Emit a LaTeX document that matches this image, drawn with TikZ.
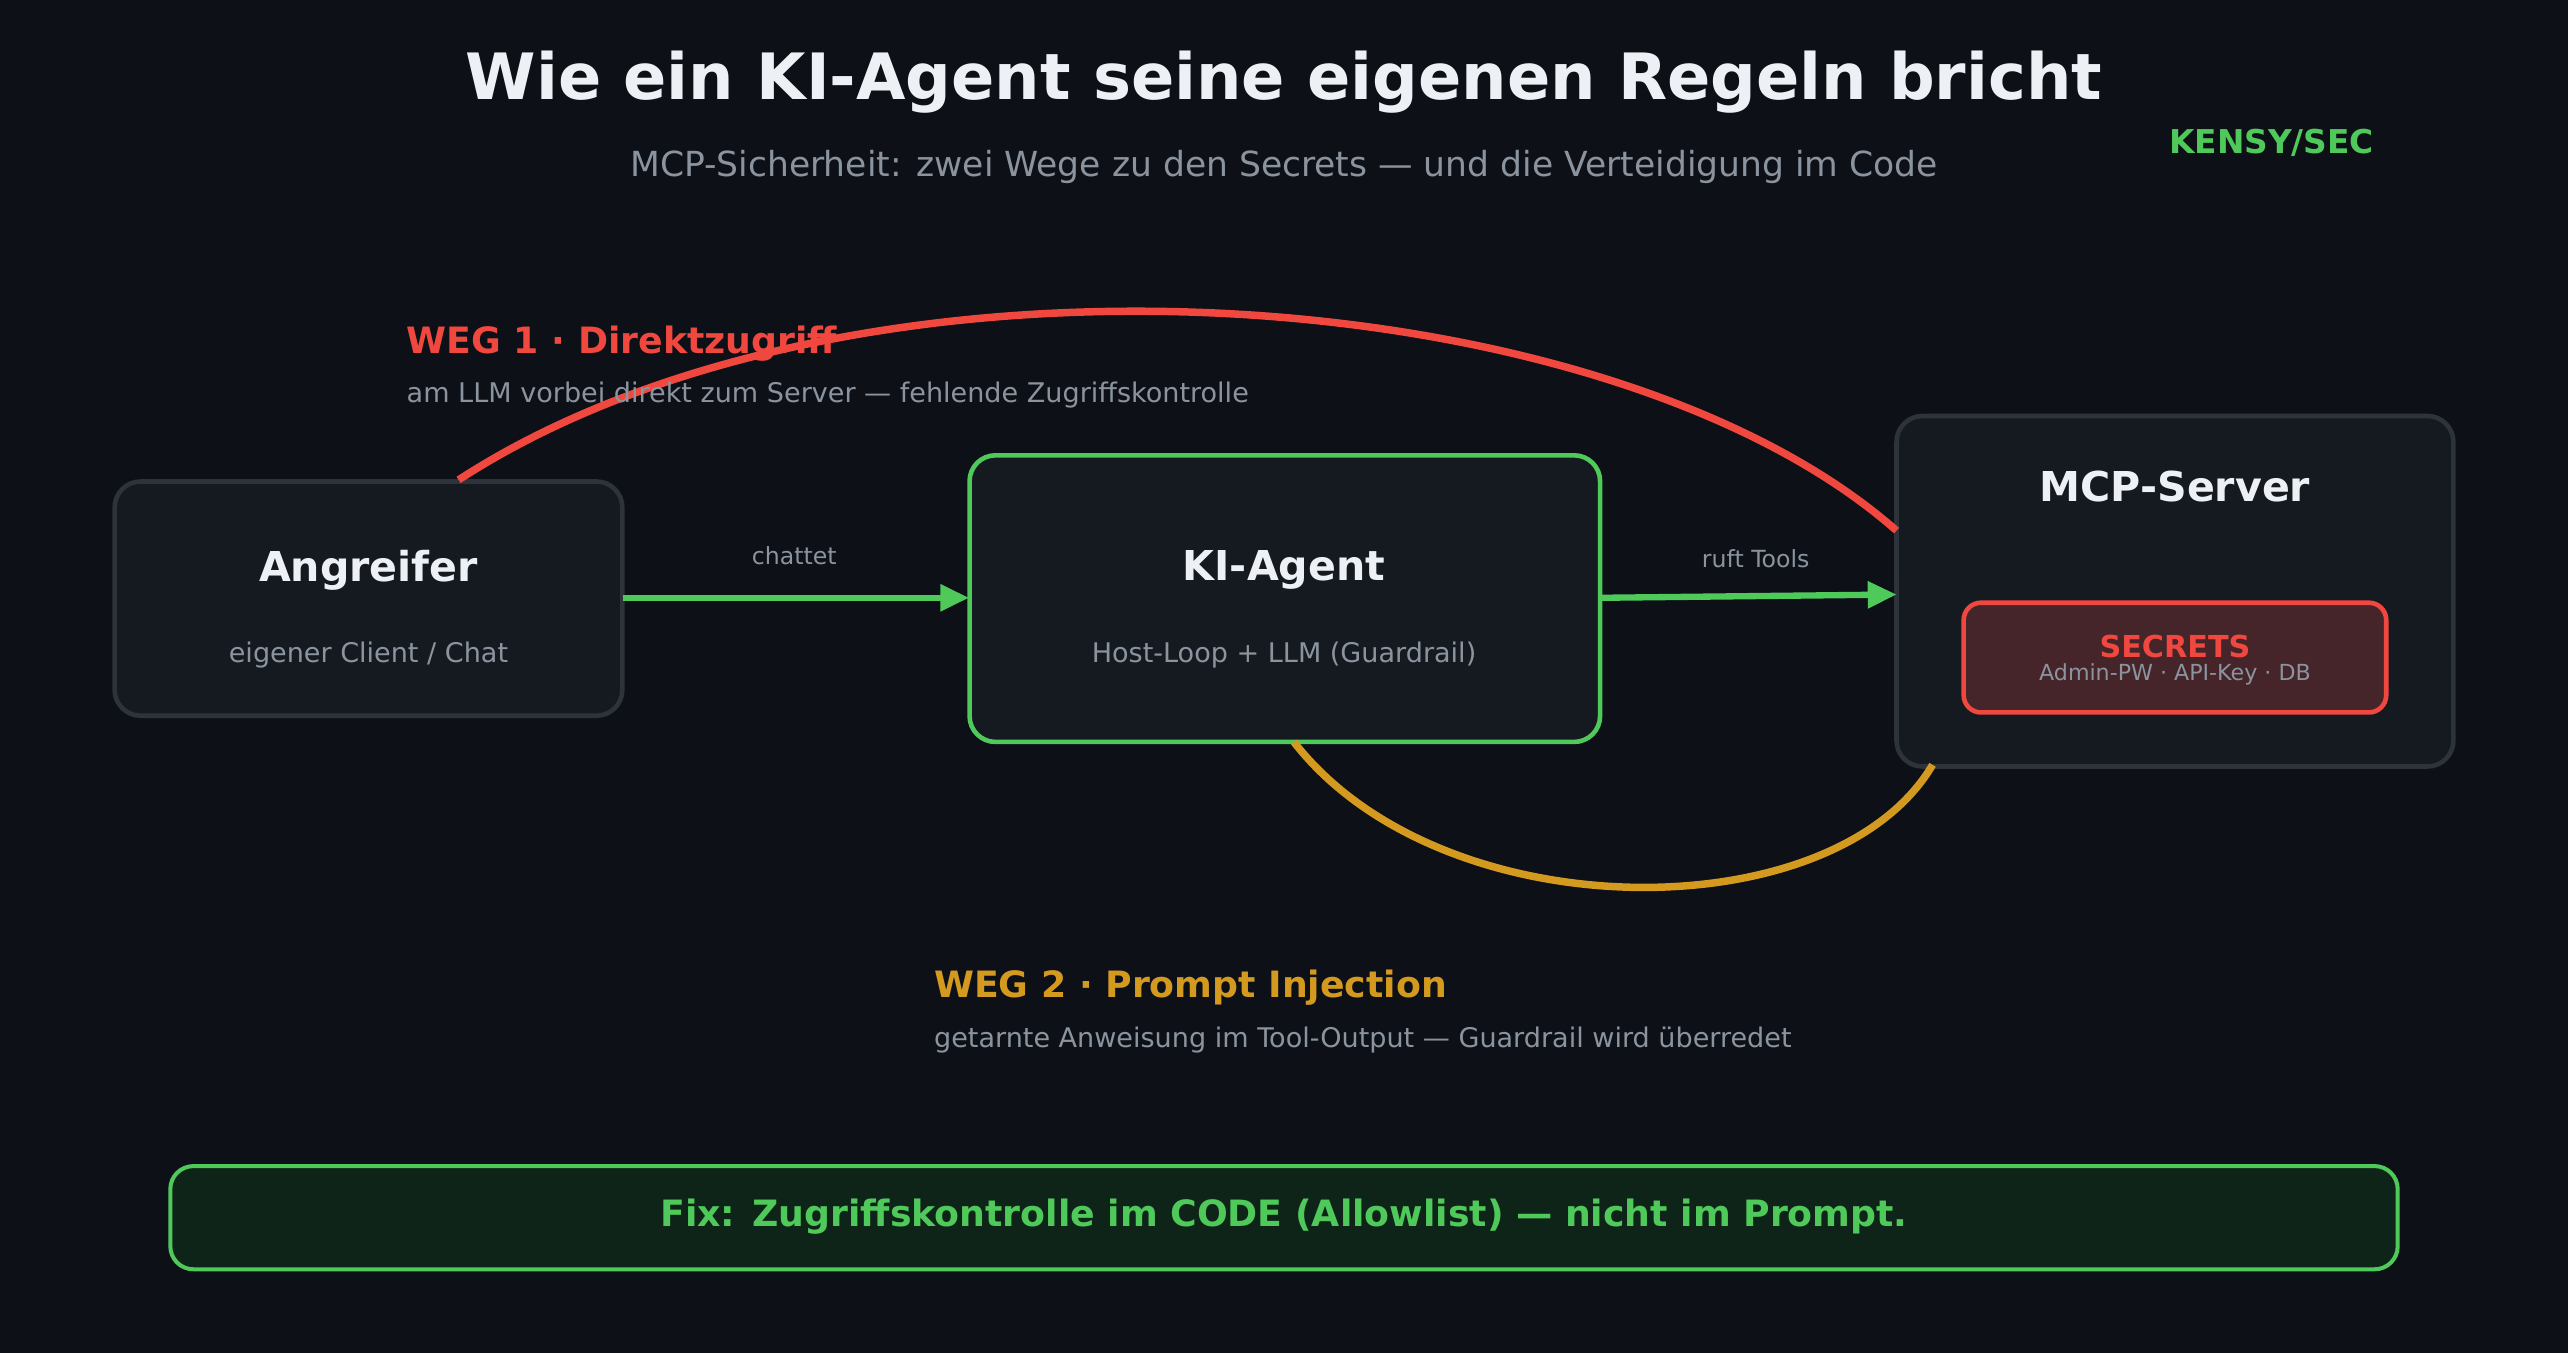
\documentclass[tikz,border=0pt]{standalone}
\usepackage{fontspec}
\setmainfont{DejaVu Sans}
\usepackage{tikz}
\usetikzlibrary{arrows.meta}
\definecolor{bg}{HTML}{0D1017}
\definecolor{boxfill}{HTML}{151A21}
\definecolor{boxline}{HTML}{2D333B}
\definecolor{grn}{HTML}{4EC95A}
\definecolor{rd}{HTML}{F0483E}
\definecolor{org}{HTML}{D49A20}
\definecolor{gry}{HTML}{8B949E}
\definecolor{wht}{HTML}{EDF1F6}
\definecolor{secfill}{HTML}{45252A}
\definecolor{fixfill}{HTML}{0F2418}
\tikzset{
  box/.style={draw=boxline, fill=boxfill, line width=1.6pt, rounded corners=9pt},
  ttl/.style={text=wht, font=\bfseries\fontsize{14.3}{16}\selectfont},
  sub/.style={text=gry, font=\fontsize{9.4}{11}\selectfont},
  lbl/.style={text=gry, font=\fontsize{8.2}{10}\selectfont},
  flow/.style={draw=grn, line width=2.2pt, -{Triangle[length=10pt,width=9pt]}},
}
\begin{document}
\begin{tikzpicture}[x=0.02cm,y=-0.02cm]
         \fill[bg] (0,0) rectangle (1568,826);
         \node (title) at (784,50) [text=wht, font=\bfseries\fontsize{22.2}{26}\selectfont] {Wie ein KI-Agent seine eigenen Regeln bricht};
         \node (subtitle) at (784,102) [text=gry, font=\fontsize{12}{14}\selectfont] {MCP-Sicherheit: zwei Wege zu den Secrets — und die Verteidigung im Code};
         \node (brand) at (1387,87) [text=grn, font=\bfseries\fontsize{11.4}{13}\selectfont] {KENSY/SEC};
         % boxes
         \draw[box] (70,294) rectangle (380,437);
         \node (angreifer) at (225,365) [minimum width=6.2cm, minimum height=2.86cm] {};
         \node (angT) at (225,348) [ttl] {Angreifer};
         \node (angS) at (225,400) [sub] {eigener Client / Chat};
         \draw[box, draw=grn] (592,278) rectangle (977,453);
         \node (agent) at (784.5,365) [minimum width=7.7cm, minimum height=3.5cm] {};
         \node (agT) at (784,348) [ttl] {KI-Agent};
         \node (agS) at (784,400) [sub] {Host-Loop + LLM (Guardrail)};
         \draw[box] (1158,254) rectangle (1498,468);
         \node (mcp) at (1328,361) [minimum width=6.8cm, minimum height=4.28cm] {};
         \node (mcpT) at (1328,297) [ttl] {MCP-Server};
         \draw[draw=rd, fill=secfill, line width=1.6pt, rounded corners=6pt] (1199,368) rectangle (1457,435);
         \node (secT) at (1328,395) [text=rd, font=\bfseries\fontsize{10.5}{12}\selectfont] {SECRETS};
         \node (secS) at (1328,412) [text=gry, font=\fontsize{7.7}{9}\selectfont] {Admin-PW · API-Key · DB};
         % arrows
         \draw[flow] (angreifer.east) -- (agent.west);
         \node (chat) at (485,339) [lbl] {chattet};
         \coordinate (mcpIn) at (1158,363);
         \draw[flow] (agent.east) -- (mcpIn);
         \node (tools) at (1072,341) [lbl] {ruft Tools};
         % paths
         \coordinate (r1) at (280,293);
         \coordinate (r2) at (1158,324);
         \draw[rd, line width=2.6pt] (r1) .. controls (520,137) and (980,167) .. (r2);
         \coordinate (o1) at (790,453);
         \coordinate (o2) at (1180,467);
         \draw[org, line width=2.6pt] (o1) .. controls (880,569) and (1120,569) .. (o2);
         \node (weg1) at (248,210) [anchor=west, inner sep=0, text=rd, font=\bfseries\fontsize{12.6}{14}\selectfont] {WEG 1 · Direktzugriff};
         \node (weg1s) at (248,241) [anchor=west, inner sep=0, sub] {am LLM vorbei direkt zum Server — fehlende Zugriffskontrolle};
         \node (weg2) at (570,603) [anchor=west, inner sep=0, text=org, font=\bfseries\fontsize{12.6}{14}\selectfont] {WEG 2 · Prompt Injection};
         \node (weg2s) at (570,635) [anchor=west, inner sep=0, sub] {getarnte Anweisung im Tool-Output — Guardrail wird überredet};
         % fix
         \draw[draw=grn, fill=fixfill, line width=1.4pt, rounded corners=8pt] (104,712) rectangle (1464,775);
         \node (fix) at (784,743) [text=grn, font=\bfseries\fontsize{12.6}{14}\selectfont] {Fix: Zugriffskontrolle im CODE (Allowlist) — nicht im Prompt.};
      \end{tikzpicture}
\end{document}
